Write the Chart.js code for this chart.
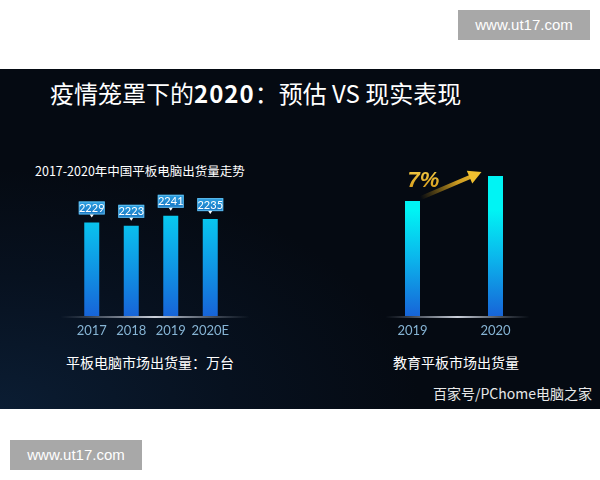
<!DOCTYPE html>
<html>
<head>
<meta charset="utf-8">
<script src="https://cdn.jsdelivr.net/npm/chart.js@4/dist/chart.umd.min.js"></script>
<style>
  html, body { margin: 0; padding: 0; background: #fff; width: 600px; height: 480px; overflow: hidden; }
  body { position: relative; font-family: "Noto Sans CJK SC", "Noto Sans", sans-serif; }
  .panel { position: absolute; left: 0; top: 69px; width: 600px; height: 340px;
    background: radial-gradient(ellipse 420px 240px at 0% 100%, #0b1d33 0%, #07111f 55%, #050a12 100%); }
  .abs { position: absolute; white-space: nowrap; color: #fff; }
  .title { left: 50px; top: 75px; font-size: 24px; line-height: 36px; font-weight: 400; }
  .title b { font-weight: 700; letter-spacing: 1px; }
  .sub { left: 35px; top: 161px; font-size: 12.5px; line-height: 20px; }
  .cap { font-size: 14px; line-height: 20px; }
  .src { left: 433px; top: 383px; font-size: 14px; line-height: 20px; color: #e8e8e8; }
  .wm { position: absolute; background: #a8a8a8; color: #fff; font-family: "Liberation Sans", Arial, sans-serif;
    font-size: 15px; line-height: 30px; text-align: center; width: 132px; height: 30px; }
  canvas { position: absolute; }
</style>
</head>
<body>
<div class="panel"></div>
<div class="abs title">疫情笼罩下的<b>2020</b>：预估 VS 现实表现</div>
<div class="abs sub">2017-2020年中国平板电脑出货量走势</div>
<div class="abs cap" style="left:66px;top:352px">平板电脑市场出货量：万台</div>
<div class="abs cap" style="left:393px;top:352px">教育平板市场出货量</div>
<div class="abs src">百家号/PChome电脑之家</div>
<div class="wm" style="left:458px;top:10px">www.ut17.com</div>
<div class="wm" style="left:10px;top:440px">www.ut17.com</div>

<div style="position:absolute;left:40px;top:110px;width:230px;height:230px"><canvas id="tablet"></canvas></div>
<div style="position:absolute;left:350px;top:150px;width:220px;height:190px"><canvas id="edu"></canvas></div>

<script>
// tablet shipments in China, 10k units
const tabletYears = ['2017', '2018', '2019', '2020E'];
const tabletShipments = [2229, 2223, 2241, 2235];

// education tablet shipments, indexed (2019 = 100), +7%
const eduYears = ['2019', '2020'];
const eduIndex = [100, 107];

function barGradient(context) {
  const chart = context.chart;
  const area = chart.chartArea;
  if (!area) return '#00e0f0';
  const g = chart.ctx.createLinearGradient(0, area.top + 60, 0, area.bottom);
  g.addColorStop(0, '#00f4f4');
  g.addColorStop(0.45, '#0bb6ec');
  g.addColorStop(1, '#1764d8');
  return g;
}

// faint glowing baseline under the bars
const baseLine = {
  id: 'baseLine',
  afterDatasetsDraw(chart, args, opts) {
    const { ctx, chartArea, width } = chart;
    const x0 = opts.left, x1 = width - opts.right, y = chartArea.bottom + 1;
    const g = ctx.createLinearGradient(x0, 0, x1, 0);
    g.addColorStop(0, 'rgba(160,170,185,0)');
    g.addColorStop(0.5, 'rgba(215,220,230,0.95)');
    g.addColorStop(1, 'rgba(160,170,185,0)');
    ctx.save();
    ctx.strokeStyle = g;
    ctx.lineWidth = 2;
    ctx.beginPath();
    ctx.moveTo(x0, y);
    ctx.lineTo(x1, y);
    ctx.stroke();
    ctx.restore();
  }
};

// little blue value tags above each bar
const valueTags = {
  id: 'valueTags',
  afterDatasetsDraw(chart) {
    const { ctx } = chart;
    const meta = chart.getDatasetMeta(0);
    const data = chart.data.datasets[0].data;
    ctx.save();
    ctx.font = '11px Lato, "DejaVu Sans", sans-serif';
    ctx.textAlign = 'center';
    ctx.textBaseline = 'middle';
    meta.data.forEach((bar, i) => {
      const w = 26, h = 13;
      const bx = bar.x - w / 2, by = bar.y - 8 - h;
      const g = ctx.createLinearGradient(0, by, 0, by + h);
      g.addColorStop(0, '#2a9ee0');
      g.addColorStop(1, '#1a78c4');
      ctx.fillStyle = g;
      ctx.fillRect(bx, by, w, h);
      ctx.strokeStyle = 'rgba(110,200,245,0.8)';
      ctx.lineWidth = 1;
      ctx.strokeRect(bx + 0.5, by + 0.5, w - 1, h - 1);
      ctx.fillStyle = '#fff';
      ctx.beginPath();
      ctx.moveTo(bar.x - 2, by + h);
      ctx.lineTo(bar.x + 2, by + h);
      ctx.lineTo(bar.x, by + h + 3);
      ctx.closePath();
      ctx.fill();
      ctx.fillText(String(data[i]), bar.x, by + h / 2 + 0.5);
    });
    ctx.restore();
  }
};

// growth arrow and percentage between the two bars
const growthArrow = {
  id: 'growthArrow',
  afterDatasetsDraw(chart) {
    const { ctx } = chart;
    const meta = chart.getDatasetMeta(0);
    const data = chart.data.datasets[0].data;
    const a = meta.data[0], b = meta.data[1];
    const pct = Math.round((data[1] - data[0]) / data[0] * 100) + '%';
    const sx = a.x + 8, sy = a.y - 3, ex = b.x - 14, ey = b.y - 4;
    const ang = Math.atan2(ey - sy, ex - sx);
    ctx.save();
    const g = ctx.createLinearGradient(sx, sy, ex, ey);
    g.addColorStop(0, 'rgba(200,150,20,0)');
    g.addColorStop(0.6, 'rgba(225,170,35,0.9)');
    g.addColorStop(1, '#f0c030');
    ctx.strokeStyle = g;
    ctx.lineWidth = 4;
    ctx.beginPath();
    ctx.moveTo(sx, sy);
    ctx.lineTo(ex - 9 * Math.cos(ang), ey - 9 * Math.sin(ang));
    ctx.stroke();
    ctx.translate(ex, ey);
    ctx.rotate(ang);
    ctx.fillStyle = '#f0c030';
    ctx.beginPath();
    ctx.moveTo(0, 0);
    ctx.lineTo(-13, -7);
    ctx.lineTo(-13, 7);
    ctx.closePath();
    ctx.fill();
    ctx.restore();

    ctx.save();
    const tg = ctx.createLinearGradient(0, a.y - 34, 0, a.y - 14);
    tg.addColorStop(0, '#f6d04a');
    tg.addColorStop(1, '#d9a120');
    ctx.fillStyle = tg;
    ctx.font = 'italic bold 22px "Liberation Sans", Arial, sans-serif';
    ctx.textAlign = 'left';
    ctx.textBaseline = 'alphabetic';
    ctx.fillText(pct, a.x - 5, a.y - 14);
    ctx.restore();
  }
};

const tickFont = { family: 'Lato, "DejaVu Sans", sans-serif', size: 13 };

function makeChart(id, labels, values, yMin, yMax, barPct, pad, lineInset, extra) {
  return new Chart(document.getElementById(id), {
    type: 'bar',
    data: {
      labels,
      datasets: [{ data: values, backgroundColor: barGradient, borderWidth: 0,
        barPercentage: barPct, categoryPercentage: 1 }]
    },
    options: {
      responsive: true, maintainAspectRatio: false, animation: false,
      layout: { padding: pad },
      plugins: { legend: { display: false }, tooltip: { enabled: false }, baseLine: lineInset },
      scales: {
        x: { grid: { display: false, drawTicks: false }, border: { display: false },
          afterFit(scale) { scale.height = 24; },
          ticks: { color: '#86b4d4', font: tickFont, padding: 7, maxRotation: 0, minRotation: 0, autoSkip: false } },
        y: { display: false, min: yMin, max: yMax }
      }
    },
    plugins: [baseLine, extra]
  });
}

makeChart('tablet', tabletYears, tabletShipments, 2061, 2431, 15 / 39.5,
  { left: 32, right: 40, top: 0, bottom: 0 }, { left: 20, right: 20 }, valueTags);
makeChart('edu', eduYears, eduIndex, 67.8, 114.3, 15 / 83,
  { left: 21, right: 33, top: 0, bottom: 0 }, { left: 35, right: 40 }, growthArrow);
</script>
</body>
</html>
